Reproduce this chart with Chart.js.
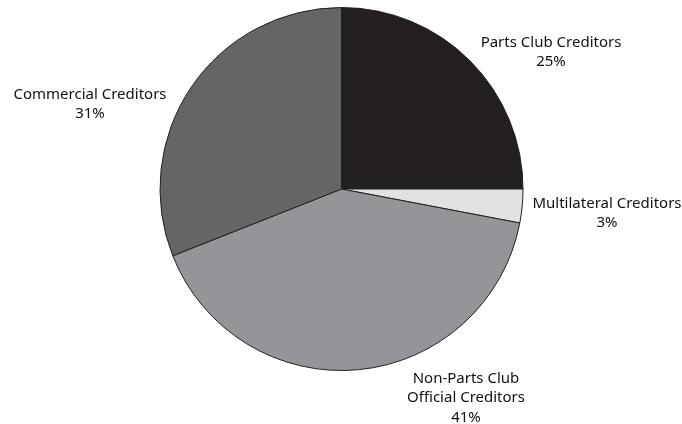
<!DOCTYPE html>
<html>
<head>
<meta charset="utf-8">
<script src="https://cdn.jsdelivr.net/npm/chart.js@4/dist/chart.umd.min.js"></script>
<style>
html,body{margin:0;padding:0;background:#fff;}
#wrap{width:682px;height:424px;position:relative;}
</style>
</head>
<body>
<div id="wrap"><canvas id="c" width="682" height="424"></canvas></div>
<script>
const categories = ["Parts Club Creditors", "Multilateral Creditors", "Non-Parts Club Official Creditors", "Commercial Creditors"];
const shares = [25, 3, 41, 31];
const labelLines = [["Parts Club Creditors"], ["Multilateral Creditors"], ["Non-Parts Club", "Official Creditors"], ["Commercial Creditors"]];
const colors = ["#231f20", "#e1e2e3", "#939598", "#646567"];

// label anchor positions (layout only)
const labelPos = [[551, 43], [607, 204], [466, 379], [90, 95]];

const labelPlugin = {
  id: 'sliceLabels',
  afterDraw(chart) {
    const ctx = chart.ctx;
    ctx.save();
    ctx.font = '15px "Noto Sans", "Open Sans", sans-serif';
    ctx.fillStyle = '#111';
    ctx.textAlign = 'center';
    ctx.textBaseline = 'middle';
    const vals = chart.data.datasets[0].data;
    vals.forEach((v, i) => {
      const lines = labelLines[i].concat([v + '%']);
      const [x, y] = labelPos[i];
      lines.forEach((ln, k) => ctx.fillText(ln, x, y + k * 19.2));
    });
    ctx.restore();
  }
};

new Chart(document.getElementById('c'), {
  type: 'pie',
  data: {
    labels: categories,
    datasets: [{
      data: shares,
      backgroundColor: colors,
      borderColor: '#231f20',
      borderWidth: 1
    }]
  },
  options: {
    responsive: false,
    animation: false,
    layout: { padding: { top: 7, bottom: 53, left: 1, right: 0 } },
    plugins: { legend: { display: false }, tooltip: { enabled: false } }
  },
  plugins: [labelPlugin]
});
</script>
</body>
</html>
